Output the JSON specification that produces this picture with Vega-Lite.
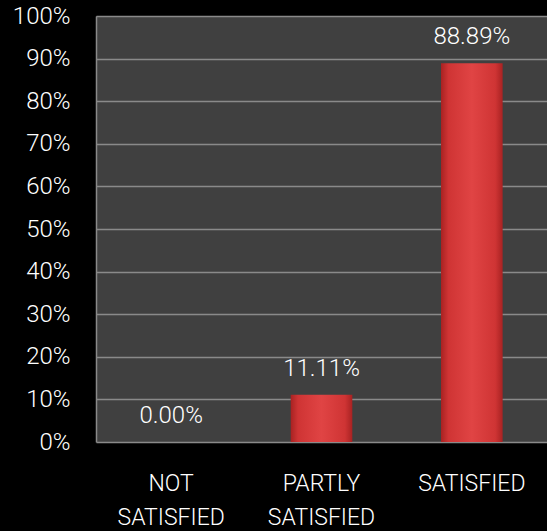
{
  "$schema": "https://vega.github.io/schema/vega-lite/v6.json",
  "background": "#000000",
  "autosize": "none",
  "padding": {"left": 96, "top": 16, "right": 0, "bottom": 89},
  "width": 451,
  "height": 426,
  "data": {
    "values": [
      {"category": "NOT SATISFIED", "value": 0.0},
      {"category": "PARTLY SATISFIED", "value": 0.1111},
      {"category": "SATISFIED", "value": 0.8889}
    ]
  },
  "encoding": {
    "x": {
      "field": "category",
      "type": "nominal",
      "sort": null,
      "scale": {"paddingInner": 0.59, "paddingOuter": 0.295},
      "axis": {
        "title": null,
        "labelAngle": 0,
        "labelExpr": "split(datum.label, ' ')",
        "labelLineHeight": 34,
        "labelBaseline": "top",
        "labelPadding": 30,
        "labelColor": "#ffffff",
        "labelFont": "Roboto",
        "labelFontWeight": 300,
        "labelFontSize": 23,
        "ticks": false,
        "domain": false,
        "grid": false
      }
    },
    "y": {
      "field": "value",
      "type": "quantitative",
      "scale": {"domain": [0, 1], "nice": false},
      "axis": {
        "title": null,
        "values": [0, 0.1, 0.2, 0.3, 0.4, 0.5, 0.6, 0.7, 0.8, 0.9, 1],
        "format": ".0%",
        "labelColor": "#ffffff",
        "labelFont": "Roboto",
        "labelFontWeight": 300,
        "labelFontSize": 24,
        "labelPadding": 26,
        "labelOverlap": false,
        "ticks": false,
        "domain": true,
        "domainColor": "#8a8a8a",
        "domainWidth": 1.5,
        "grid": true,
        "gridColor": "#8a8a8a",
        "gridWidth": 1.5
      }
    }
  },
  "layer": [
    {
      "mark": {
        "type": "bar",
        "color": {
          "gradient": "linear",
          "x1": 0, "y1": 0, "x2": 1, "y2": 0,
          "stops": [
            {"offset": 0, "color": "#a82222"},
            {"offset": 0.12, "color": "#cf3434"},
            {"offset": 0.5, "color": "#e04444"},
            {"offset": 0.88, "color": "#cf3434"},
            {"offset": 1, "color": "#a82222"}
          ]
        }
      }
    },
    {
      "mark": {
        "type": "text",
        "baseline": "alphabetic",
        "dy": -19,
        "color": "#ffffff",
        "font": "Roboto",
        "fontWeight": 300,
        "fontSize": 24
      },
      "encoding": {
        "text": {"field": "value", "type": "quantitative", "format": ".2%"}
      }
    }
  ],
  "config": {
    "view": {"fill": "#404040", "stroke": null}
  }
}
